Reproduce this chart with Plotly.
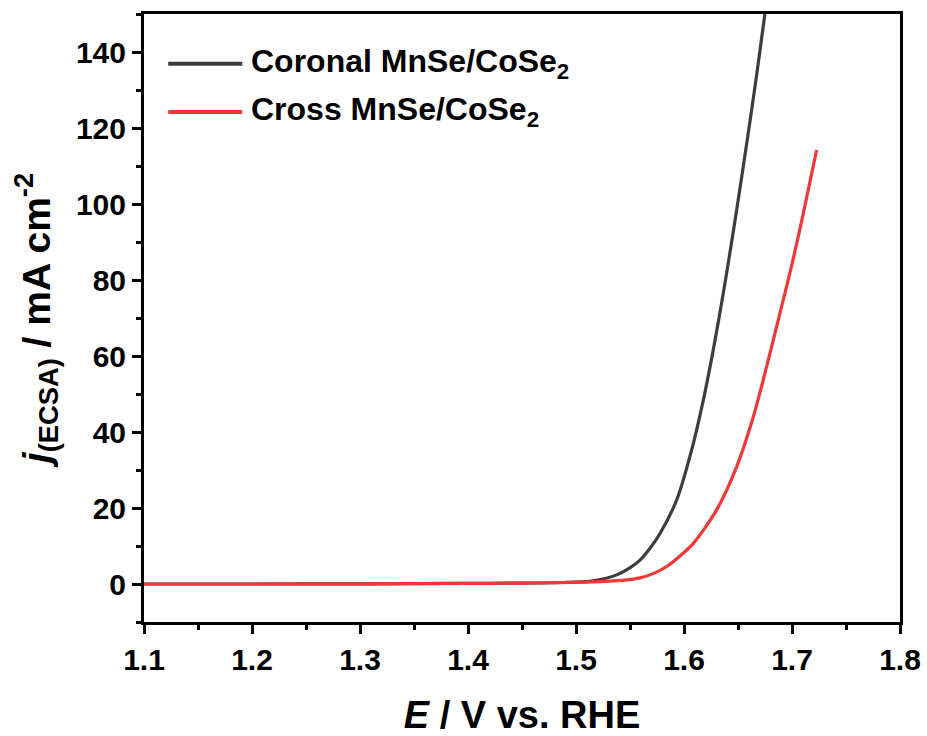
import plotly.graph_objects as go

# Coronal MnSe/CoSe2
E_coronal = [1.10, 1.20, 1.30, 1.40, 1.45, 1.49, 1.513, 1.525, 1.5377, 1.548, 1.5593, 1.568,
             1.5778, 1.5932, 1.6071, 1.6179, 1.6271, 1.6349, 1.6405, 1.6488, 1.658, 1.6673,
             1.675, 1.679]
j_coronal = [0.0, 0.0, 0.05, 0.15, 0.25, 0.4, 0.7, 1.3, 2.4, 3.9, 6.3, 9.2,
             13.3, 22.1, 35.3, 48.4, 61.6, 74.1, 83.6, 98.5, 115.8, 134.0,
             150.2, 158.0]

# Cross MnSe/CoSe2
E_cross = [1.10, 1.20, 1.30, 1.40, 1.45, 1.50, 1.5284, 1.545, 1.5593, 1.572, 1.584, 1.596,
           1.6086, 1.6302, 1.6488, 1.6642, 1.6765, 1.6873, 1.6997, 1.7104, 1.7228]
j_cross = [0.0, 0.0, 0.05, 0.15, 0.25, 0.45, 0.7, 1.0, 1.6, 2.8, 4.6, 7.3,
           10.7, 19.5, 30.9, 44.0, 57.2, 69.5, 83.8, 97.4, 114.2]

names = ["Coronal MnSe/CoSe<sub>2</sub>", "Cross MnSe/CoSe<sub>2</sub>"]
colors = ["#3d3d3d", "#ef3838"]

x_ticks = [1.1, 1.2, 1.3, 1.4, 1.5, 1.6, 1.7, 1.8]
y_ticks = [0, 20, 40, 60, 80, 100, 120, 140]

FONT = "Liberation Sans"

fig = go.Figure()
for E, j, name, color in [(E_coronal, j_coronal, names[0], colors[0]),
                          (E_cross, j_cross, names[1], colors[1])]:
    fig.add_trace(go.Scatter(x=E, y=j, mode="lines", name=name, showlegend=False,
                             line=dict(color=color, width=3.2, shape="spline", smoothing=0.8)))

axis_common = dict(
    showline=True, linewidth=3, linecolor="black", mirror=True,
    ticks="outside", ticklen=9, tickwidth=3, tickcolor="black",
    showgrid=False, zeroline=False, automargin=False,
    tickfont=dict(family=FONT, size=30, color="black", weight="bold"),
)

# manual legend (long sample lines like the reference)
leg_y = [0.918, 0.839]
shapes = []
annotations = []
for name, color, yy in zip(names, colors, leg_y):
    shapes.append(dict(type="line", xref="paper", yref="paper", x0=0.032, x1=0.13, y0=yy, y1=yy,
                       line=dict(color=color, width=4)))
    annotations.append(dict(xref="paper", yref="paper", x=0.139, y=yy, xanchor="left", yanchor="middle",
                            text=name, showarrow=False,
                            font=dict(family=FONT, size=32, color="black", weight="bold")))

fig.update_layout(
    width=927, height=736,
    margin=dict(l=144, r=27, t=14, b=114),
    paper_bgcolor="white", plot_bgcolor="white",
    font=dict(family=FONT, color="black", weight="bold"),
    xaxis=dict(range=[1.1, 1.8], tickvals=x_ticks, ticktext=[f"{v:.1f}" for v in x_ticks],
               minor=dict(dtick=0.05, tick0=1.1, ticks="outside", ticklen=5, tickwidth=3, tickcolor="black"),
               title=dict(text="<i>E</i> / V vs. RHE", font=dict(family=FONT, size=38, weight="bold"), standoff=28),
               **axis_common),
    yaxis=dict(range=[-10, 150], tickvals=y_ticks, ticktext=[str(v) for v in y_ticks],
               minor=dict(dtick=10, tick0=0, ticks="outside", ticklen=5, tickwidth=3, tickcolor="black"),
               title=dict(text="<i>j</i><sub>(ECSA)</sub> / mA cm<sup>-2</sup>",
                          font=dict(family=FONT, size=39, weight="bold"), standoff=14),
               **axis_common),
    shapes=shapes,
    annotations=annotations,
    showlegend=False,
)

fig.write_html("out.html")
